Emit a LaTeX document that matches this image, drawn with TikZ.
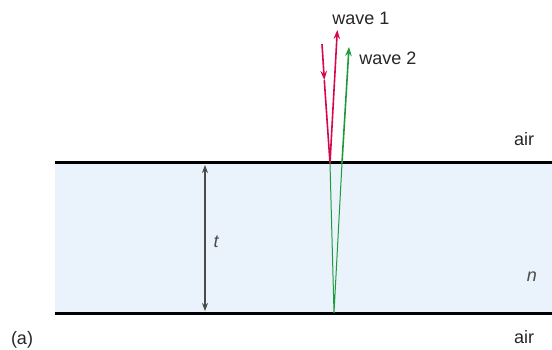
\documentclass[tikz,border=0pt]{standalone}
\usepackage{fontspec}
\setmainfont{Liberation Sans}
\usetikzlibrary{calc, positioning}
\usetikzlibrary{arrows.meta}
\definecolor{filmblue}{HTML}{EAF3FB}
\definecolor{waveone}{HTML}{D4084A}
\definecolor{wavetwo}{HTML}{1E9A3C}
\definecolor{dimgrey}{HTML}{4A4A4A}
\tikzset{
  ray/.style={line width=1.6pt},
  tip/.style={-{Stealth[length=9pt,width=6.5pt]}},
  surface/.style={line width=3pt, black},
  lbl/.style={font=\fontsize{18}{20}\selectfont, text=black!85},
}

\begin{document}
\begin{tikzpicture}[x=1pt, y=-1pt]
    \def\ytop{163}
    \def\ybot{313}
\useasboundingbox (0,0) rectangle (552,350);
% film
\fill[filmblue] (55,\ytop) rectangle (552,\ybot);
\draw[surface] (55,\ytop) -- (552,\ytop);
\draw[surface] (55,\ybot) -- (552,\ybot);
% thickness
\coordinate (ttop) at (205,\ytop+2);
\coordinate (tbot) at (205,\ybot-2);
\draw[dimgrey, line width=1.4pt, {Stealth[length=8pt,width=6pt]}-{Stealth[length=8pt,width=6pt]}] (ttop) -- (tbot);
\node[lbl, text=dimgrey, font=\fontsize{18}{20}\selectfont\itshape] (tlab) at (216,242) {t};
% rays
\coordinate (src) at (322,44);
\coordinate (srcmid) at (324.3,80);
\coordinate (A) at (330,\ytop);
\coordinate (B) at (334,\ybot);
\coordinate (C) at (342,\ytop);
\coordinate (out1) at (337.3,30);
\coordinate (out2) at (349,47);
\draw[ray, waveone, tip] (src) -- (srcmid);
\draw[ray, waveone] (srcmid) -- (A);
\draw[ray, waveone, tip] (A) -- (out1);
\draw[wavetwo, line width=1pt] (A) -- (B) -- (C);
\draw[ray, wavetwo, tip] (C) -- (out2);
% labels
\node[lbl] (w1) at (361,18) {wave 1};
\node[lbl] (w2) at (388,58) {wave 2};
\node[lbl] (air1) at (524,139) {air};
\node[lbl] (air2) at (524,337) {air};
\node[lbl, text=dimgrey, font=\fontsize{18}{20}\selectfont\itshape] (nlab) at (532,277) {n};
\node[lbl] (panel) at (22,340) {(a)};
\end{tikzpicture}
\end{document}
